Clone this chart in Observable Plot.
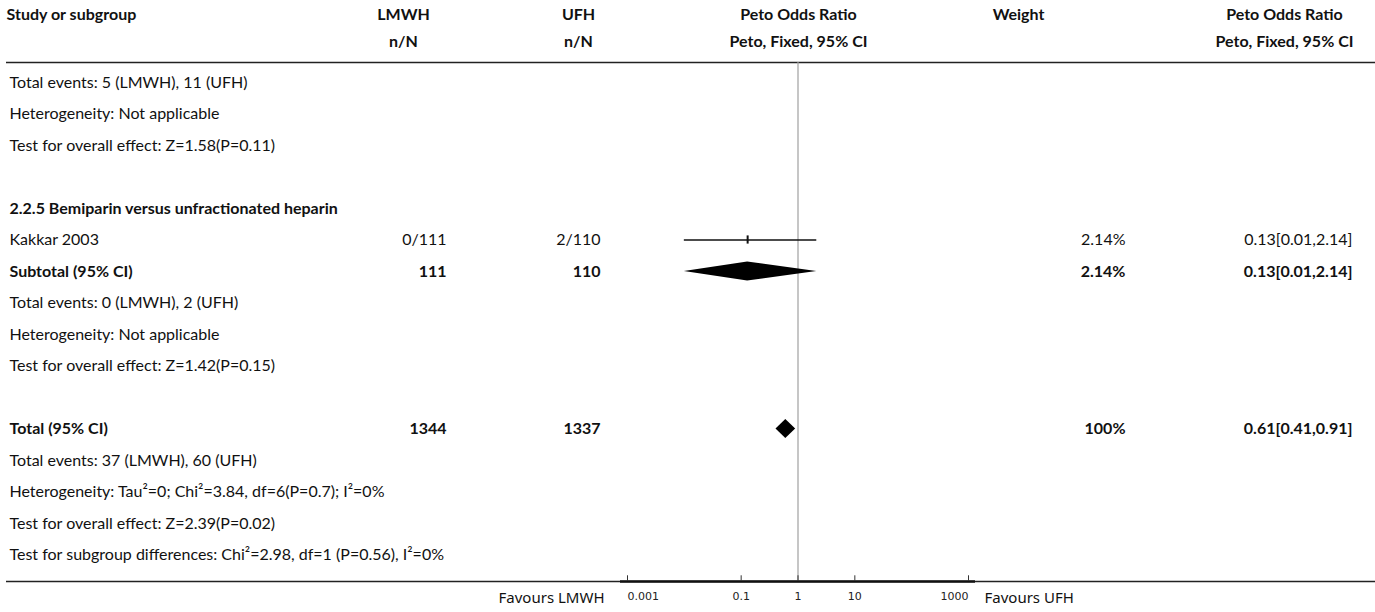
<!DOCTYPE html>
<html>
<head>
<meta charset="utf-8">
<script src="https://cdn.jsdelivr.net/npm/d3@7"></script>
<script src="https://cdn.jsdelivr.net/npm/@observablehq/plot@0.6"></script>
<style>
  html, body { margin: 0; padding: 0; background: #fff; }
  #chart { position: relative; width: 1375px; height: 612px; }
  #chart svg { position: absolute; left: 0; top: 0; }
</style>
</head>
<body>
<div id="chart"></div>
<script>
// ---- Data ----
const headerRow1 = ["Study or subgroup", "LMWH", "UFH", "Peto Odds Ratio", "Weight", "Peto Odds Ratio"];
const headerRow2 = ["", "n/N", "n/N", "Peto, Fixed, 95% CI", "", "Peto, Fixed, 95% CI"];

// tail of the preceding subgroup
const prevSummary = [
  "Total events: 5 (LMWH), 11 (UFH)",
  "Heterogeneity: Not applicable",
  "Test for overall effect: Z=1.58(P=0.11)"
];

const subgroupName = "2.2.5 Bemiparin versus unfractionated heparin";
const studyNames = ["Kakkar 2003"];
const studyLmwh = ["0/111"];
const studyUfh = ["2/110"];
const studyOR = [0.13];
const studyLo = [0.01];
const studyHi = [2.14];
const studyWeight = [2.14];

const subtotalLabel = "Subtotal (95% CI)";
const subtotalN = [111, 110];
const subtotalOR = [0.13, 0.01, 2.14];
const subtotalWeight = 2.14;
const subSummary = [
  "Total events: 0 (LMWH), 2 (UFH)",
  "Heterogeneity: Not applicable",
  "Test for overall effect: Z=1.42(P=0.15)"
];

const totalLabel = "Total (95% CI)";
const totalN = [1344, 1337];
const totalOR = [0.61, 0.41, 0.91];
const totalWeight = 100;
const totalSummary = [
  "Total events: 37 (LMWH), 60 (UFH)",
  "Heterogeneity: Tau\u00B2=0; Chi\u00B2=3.84, df=6(P=0.7); I\u00B2=0%",
  "Test for overall effect: Z=2.39(P=0.02)",
  "Test for subgroup differences: Chi\u00B2=2.98, df=1 (P=0.56), I\u00B2=0%"
];

const axisTicks = [0.001, 0.1, 1, 10, 1000];
const favoursLeft = "Favours LMWH";
const favoursRight = "Favours UFH";

// ---- Layout ----
const W = 1375, H = 612;
const FONT = "Lato, 'Open Sans', sans-serif";
const FS = 16;
const yScale = {domain: [0, 15], range: [82, 554.5]};   // row index -> pixels
const ROW = {head1: -2.16, head2: -1.3, topLine: -0.635, bottom: 15.84, favours: 16.38};
const COL = {label: 9, header0: 6, lmwh: 446, lmwhHead: 403, ufh: 600, ufhHead: 578,
             or: 798, weight: 1125, weightHead: 1018, orText: 1352, orHead: 1284};

const f2 = d3.format(".2f");
const ciText = (o, l, h) => `${f2(o)}[${f2(l)},${f2(h)}]`;
const wText = w => (w === 100 ? "100%" : `${f2(w)}%`);

// table cells: {x, k, text, anchor, bold}
const cells = [];
const add = (x, k, text, anchor, bold) => cells.push({x, k, text, anchor, bold});

add(COL.header0, ROW.head1, headerRow1[0], "start", true);
add(COL.lmwhHead, ROW.head1, headerRow1[1], "middle", true);
add(COL.ufhHead, ROW.head1, headerRow1[2], "middle", true);
add(COL.or, ROW.head1, headerRow1[3], "middle", true);
add(COL.weightHead, ROW.head1, headerRow1[4], "middle", true);
add(COL.orHead, ROW.head1, headerRow1[5], "middle", true);
add(COL.lmwhHead, ROW.head2, headerRow2[1], "middle", true);
add(COL.ufhHead, ROW.head2, headerRow2[2], "middle", true);
add(COL.or, ROW.head2, headerRow2[3], "middle", true);
add(COL.orHead, ROW.head2, headerRow2[5], "middle", true);

let k = 0;
prevSummary.forEach(t => add(COL.label, k++, t, "start", false));
k++;
add(COL.label, k++, subgroupName, "start", true);

const studies = studyNames.map((name, i) => {
  const row = {k: k++, or: studyOR[i], lo: studyLo[i], hi: studyHi[i]};
  add(COL.label, row.k, name, "start", false);
  add(COL.lmwh, row.k, studyLmwh[i], "end", false);
  add(COL.ufh, row.k, studyUfh[i], "end", false);
  add(COL.weight, row.k, wText(studyWeight[i]), "end", false);
  add(COL.orText, row.k, ciText(studyOR[i], studyLo[i], studyHi[i]), "end", false);
  return row;
});

const summaries = [];
const subK = k++;
add(COL.label, subK, subtotalLabel, "start", true);
add(COL.lmwh, subK, String(subtotalN[0]), "end", true);
add(COL.ufh, subK, String(subtotalN[1]), "end", true);
add(COL.weight, subK, wText(subtotalWeight), "end", true);
add(COL.orText, subK, ciText(...subtotalOR), "end", true);
summaries.push({k: subK, or: subtotalOR[0], lo: subtotalOR[1], hi: subtotalOR[2]});
subSummary.forEach(t => add(COL.label, k++, t, "start", false));
k++;

const totK = k++;
add(COL.label, totK, totalLabel, "start", true);
add(COL.lmwh, totK, String(totalN[0]), "end", true);
add(COL.ufh, totK, String(totalN[1]), "end", true);
add(COL.weight, totK, wText(totalWeight), "end", true);
add(COL.orText, totK, ciText(...totalOR), "end", true);
summaries.push({k: totK, or: totalOR[0], lo: totalOR[1], hi: totalOR[2]});
totalSummary.forEach(t => add(COL.label, k++, t, "start", false));

// ---- Table layer ----
const textMarks = [];
for (const anchor of ["start", "middle", "end"]) {
  for (const bold of [false, true]) {
    textMarks.push(Plot.text(cells.filter(c => c.anchor === anchor && c.bold === bold), {
      x: "x", y: "k", text: "text", textAnchor: anchor,
      fontWeight: bold ? "bold" : "normal", fontSize: FS, fontFamily: FONT, fill: "#111"
    }));
  }
}

const table = Plot.plot({
  width: W, height: H, margin: 0,
  x: {type: "identity", axis: null},
  y: {...yScale, axis: null},
  style: {background: "transparent"},
  marks: [
    Plot.ruleY([ROW.topLine], {x1: 6, x2: W, stroke: "#222", strokeWidth: 1.6}),
    Plot.ruleY([ROW.bottom], {x1: 6, x2: W, stroke: "#222", strokeWidth: 1.6}),
    ...textMarks,
    Plot.text([favoursLeft], {x: 604, y: ROW.favours, text: d => d, textAnchor: "end",
      fontSize: 15, fontFamily: "'Noto Sans', sans-serif", fill: "#111"}),
    Plot.text([favoursRight], {x: 984, y: ROW.favours, text: d => d, textAnchor: "start",
      fontSize: 15, fontFamily: "'Noto Sans', sans-serif", fill: "#111"})
  ]
});

// ---- Forest layer ----
const half = 0.3; // diamond half-height in rows
const diamondPts = summaries.flatMap((s, i) => [
  {id: i, x: s.lo, y1: s.k, y2: s.k},
  {id: i, x: s.or, y1: s.k - half, y2: s.k + half},
  {id: i, x: s.hi, y1: s.k, y2: s.k}
]);

const tickAnchor = i => (i === 0 ? "start" : i === axisTicks.length - 1 ? "end" : "middle");

const forest = Plot.plot({
  width: W, height: H, margin: 0,
  x: {type: "log", domain: [0.001, 1000], range: [627, 968], axis: null},
  y: {...yScale, axis: null},
  style: {background: "transparent"},
  marks: [
    Plot.ruleX([1], {y1: ROW.topLine, y2: ROW.bottom, stroke: "#a0a0a0", strokeWidth: 1.2}),
    Plot.ruleY([ROW.bottom], {x1: axisTicks[0], x2: axisTicks[axisTicks.length - 1],
      insetLeft: -7, insetRight: -7, stroke: "#111", strokeWidth: 2.4}),
    Plot.ruleX(axisTicks, {x: d => d, y1: ROW.bottom, y2: ROW.bottom - 0.18, stroke: "#333", strokeWidth: 1}),
    ...axisTicks.map((t, i) => Plot.text([t], {x: d => d, y: ROW.favours - 0.05, text: d => String(d),
      textAnchor: tickAnchor(i), fontSize: 11, fontFamily: "'DejaVu Sans', sans-serif", fill: "#222"})),
    Plot.ruleY(studies, {y: "k", x1: "lo", x2: "hi", stroke: "#111", strokeWidth: 1.5}),
    Plot.ruleX(studies, {x: "or", y1: d => d.k - 0.13, y2: d => d.k + 0.13, stroke: "#111", strokeWidth: 2}),
    Plot.areaY(diamondPts, {x: "x", y1: "y1", y2: "y2", z: "id", fill: "#000", curve: "linear"})
  ]
});

document.getElementById("chart").append(table, forest);
</script>
</body>
</html>
